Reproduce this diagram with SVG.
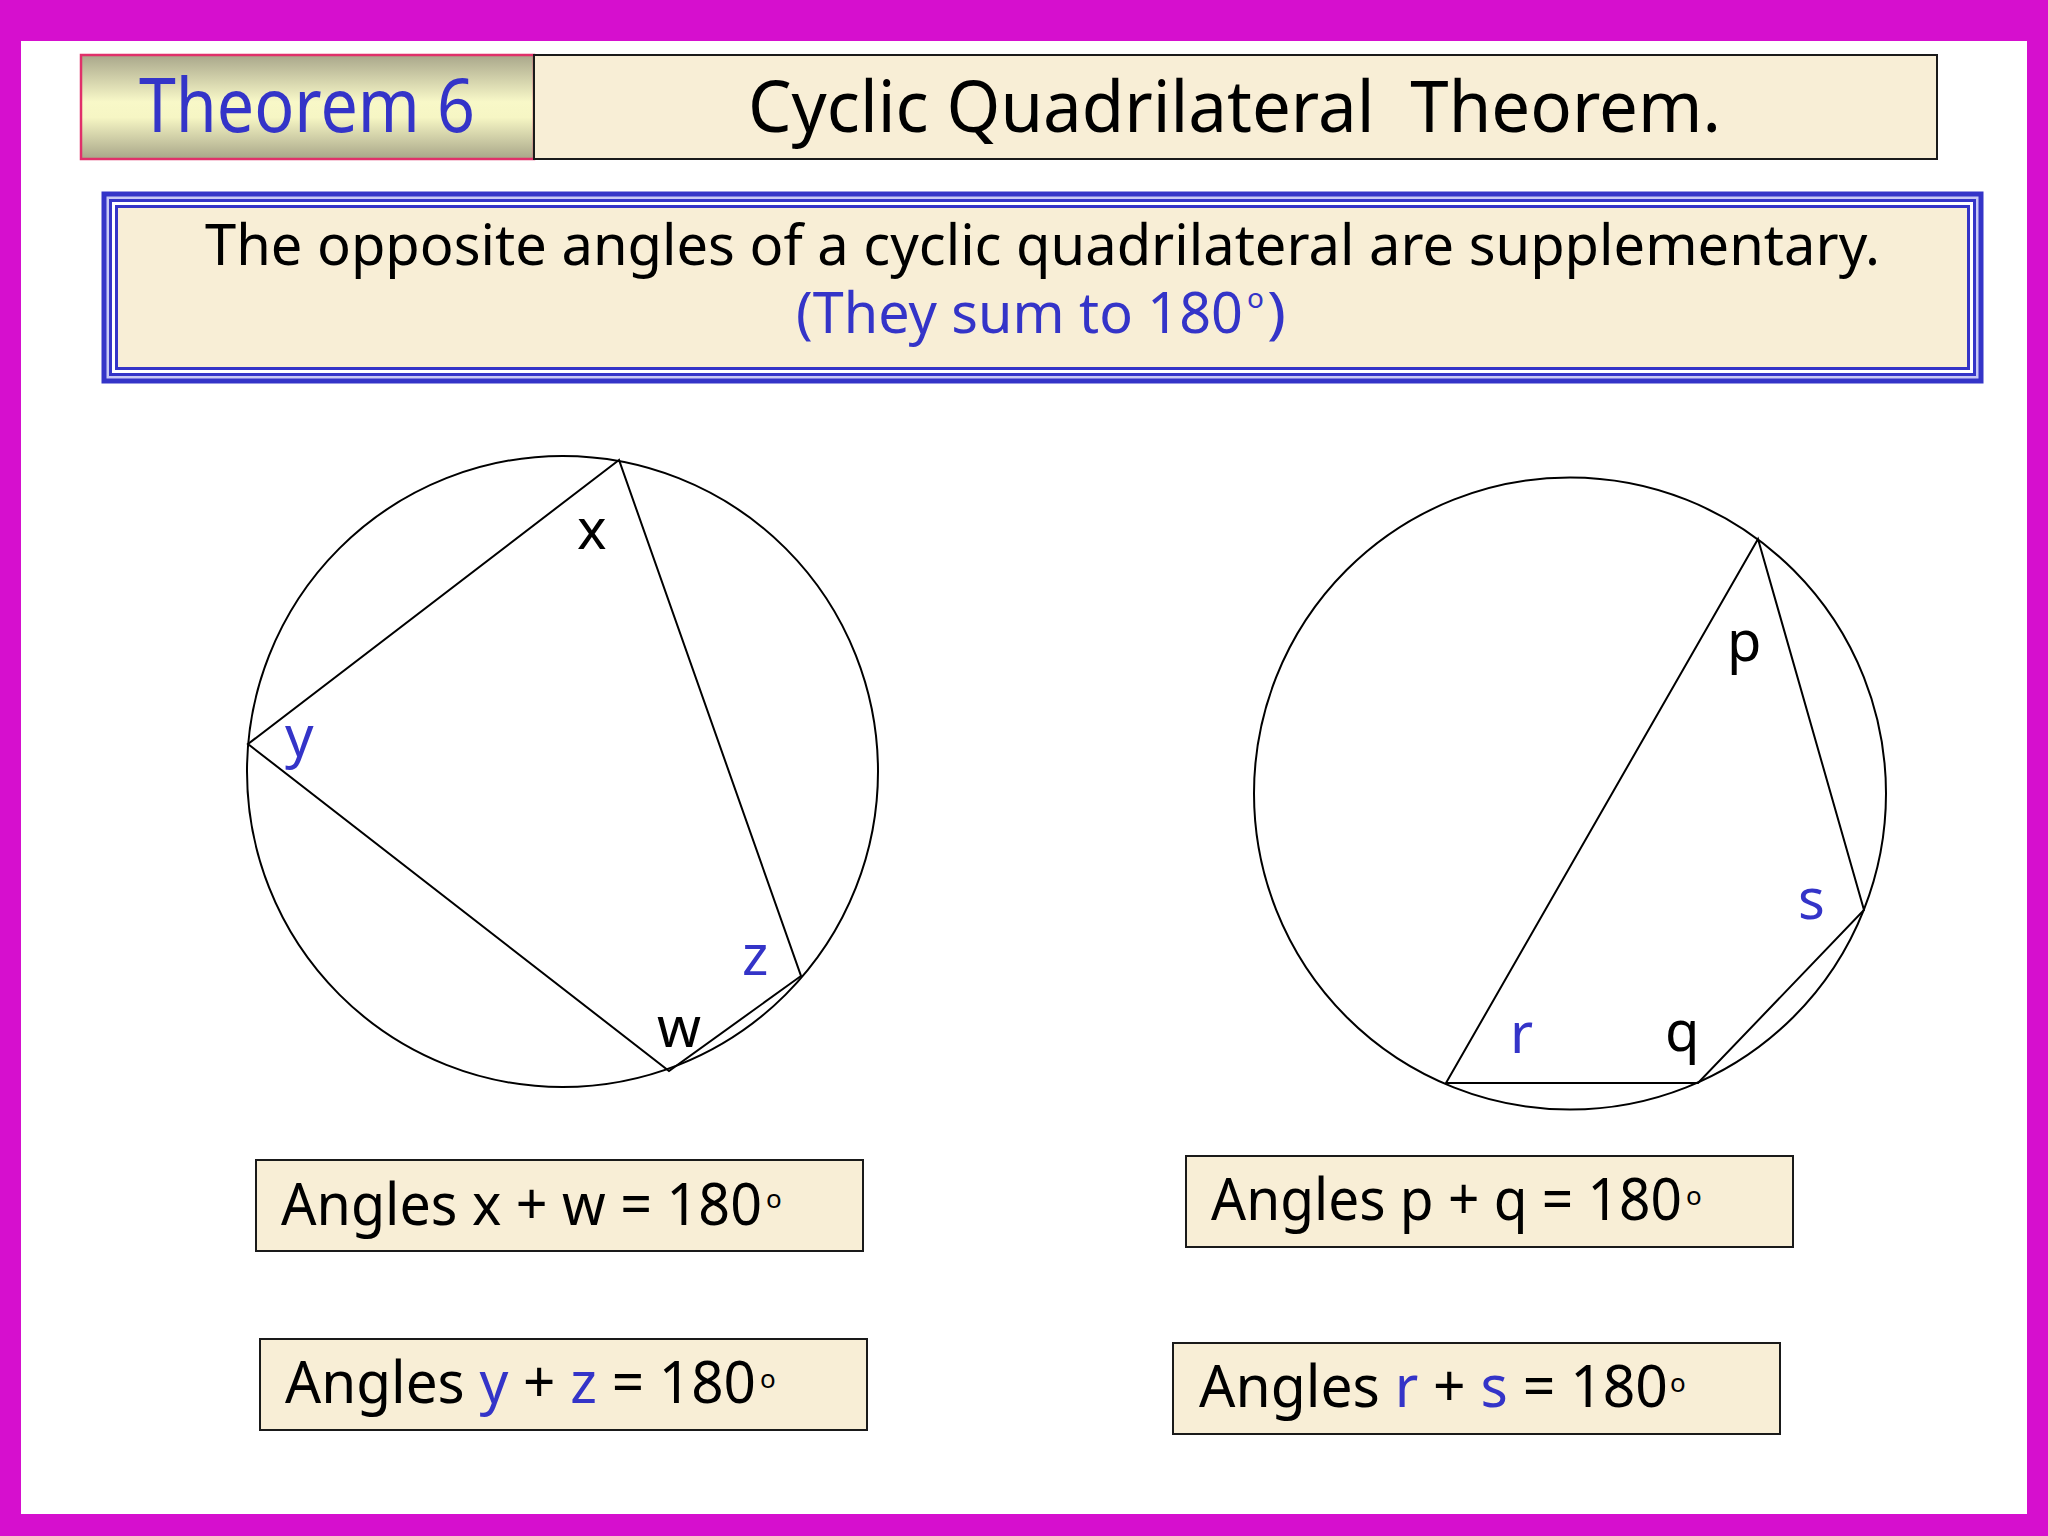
<svg xmlns="http://www.w3.org/2000/svg" width="2048" height="1536" viewBox="0 0 2048 1536">
  <defs>
    <linearGradient id="khaki" x1="0" y1="0" x2="0" y2="1">
      <stop offset="0" stop-color="#a9a78b"/>
      <stop offset="0.45" stop-color="#f8f8c8"/>
      <stop offset="0.6" stop-color="#f6f6c4"/>
      <stop offset="1" stop-color="#a8a689"/>
    </linearGradient>
    <style>
      .t { font-family: "Noto Sans", "DejaVu Sans", sans-serif; }
      .blk { fill: #000000; }
      .blu { fill: #3434c8; }
      .geo { fill: none; stroke: #000000; stroke-width: 2; }
      .card { fill: #f8eed6; stroke: #1a1a1a; stroke-width: 2; }
      .deg { font-size: 26px; }
    </style>
  </defs>

  <!-- frame -->
  <rect x="0" y="0" width="2048" height="1536" fill="#d60fce"/>
  <rect x="21" y="41" width="2006" height="1473" fill="#ffffff"/>

  <g id="theorem-label">
    <rect x="81" y="55" width="453" height="104" fill="url(#khaki)" stroke="#e0306a" stroke-width="2.5"/>
    <text class="t blu" x="139" y="132" font-size="74" textLength="336" lengthAdjust="spacingAndGlyphs">Theorem 6</text>
  </g>

  <g id="title">
    <rect x="534" y="55" width="1403" height="104" class="card"/>
    <text class="t blk" x="748" y="132" font-size="72" xml:space="preserve" textLength="973" lengthAdjust="spacingAndGlyphs">Cyclic Quadrilateral  Theorem.</text>
  </g>

  <g id="statement">
    <rect x="104" y="194" width="1877" height="187" fill="#c8c8f4" stroke="#3434c8" stroke-width="5"/>
    <rect x="110.5" y="200.5" width="1864" height="174" fill="#ffffff" stroke="#3434c8" stroke-width="3"/>
    <rect x="116.5" y="206.5" width="1852" height="162" fill="#f8eed6" stroke="#3434c8" stroke-width="3"/>
    <text class="t blk" x="205" y="265" font-size="57" textLength="1675" lengthAdjust="spacingAndGlyphs">The opposite angles of a cyclic quadrilateral are supplementary.</text>
    <text class="t blu" x="796" y="333" font-size="57" textLength="447" lengthAdjust="spacingAndGlyphs">(They sum to 180</text>
    <text class="t blu" x="1247" y="308" font-size="28">o</text>
    <text class="t blu" x="1267" y="333" font-size="57" textLength="19" lengthAdjust="spacingAndGlyphs">)</text>
  </g>

  <g id="circle-left">
    <circle cx="562.5" cy="771.5" r="315.5" class="geo"/>
    <polygon points="619,460 248,744 669,1071 801,976" class="geo"/>
    <text class="t blk" x="577" y="549" font-size="56">x</text>
    <text class="t blu" x="285" y="756" font-size="56">y</text>
    <text class="t blu" x="742" y="975" font-size="56">z</text>
    <text class="t blk" x="657" y="1047" font-size="56">w</text>
  </g>

  <g id="circle-right">
    <circle cx="1570" cy="793.5" r="316" class="geo"/>
    <polygon points="1758,539 1446,1083 1698,1083 1864,910" class="geo"/>
    <text class="t blk" x="1727" y="661" font-size="56">p</text>
    <text class="t blu" x="1798" y="919" font-size="56">s</text>
    <text class="t blu" x="1510" y="1053" font-size="56">r</text>
    <text class="t blk" x="1665" y="1051" font-size="56">q</text>
  </g>

  <g id="eq-xw">
    <rect x="256" y="1160" width="607" height="91" class="card"/>
    <text class="t blk" x="281" y="1225" font-size="58" textLength="481" lengthAdjust="spacingAndGlyphs">Angles x + w = 180</text>
    <text class="t blk deg" x="766" y="1208">o</text>
  </g>

  <g id="eq-yz">
    <rect x="260" y="1339" width="607" height="91" class="card"/>
    <text class="t blk" x="285" y="1403" font-size="58" textLength="471" lengthAdjust="spacingAndGlyphs">Angles <tspan class="blu">y</tspan> + <tspan class="blu">z</tspan> = 180</text>
    <text class="t blk deg" x="760" y="1388">o</text>
  </g>

  <g id="eq-pq">
    <rect x="1186" y="1156" width="607" height="91" class="card"/>
    <text class="t blk" x="1211" y="1220" font-size="58" textLength="471" lengthAdjust="spacingAndGlyphs">Angles p + q = 180</text>
    <text class="t blk deg" x="1686" y="1205">o</text>
  </g>

  <g id="eq-rs">
    <rect x="1173" y="1343" width="607" height="91" class="card"/>
    <text class="t blk" x="1199" y="1407" font-size="58" textLength="469" lengthAdjust="spacingAndGlyphs">Angles <tspan class="blu">r</tspan> + <tspan class="blu">s</tspan> = 180</text>
    <text class="t blk deg" x="1670" y="1392">o</text>
  </g>
</svg>
